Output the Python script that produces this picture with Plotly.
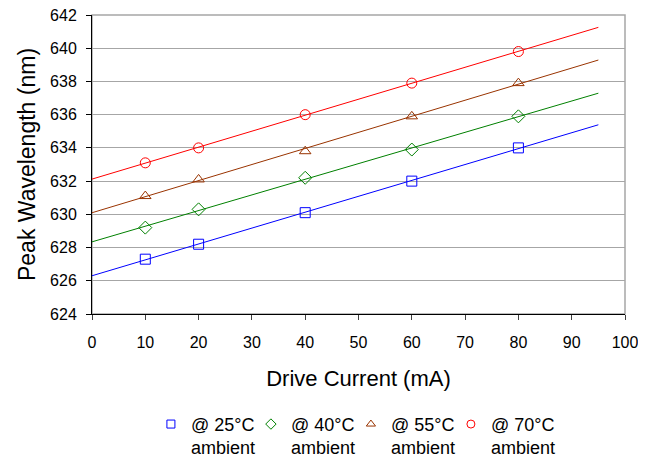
import numpy as np
import plotly.graph_objects as go

# ---- data ----
drive_current = [10, 20, 40, 60, 80]          # mA
wl_25 = [627.3, 628.2, 630.1, 632.0, 634.0]   # nm
wl_40 = [629.2, 630.3, 632.2, 633.9, 635.9]
wl_55 = [631.1, 632.1, 633.8, 635.9, 637.9]
wl_70 = [633.1, 634.0, 636.0, 637.9, 639.8]
series_names = ["@ 25°C<br>ambient", "@ 40°C<br>ambient",
                "@ 55°C<br>ambient", "@ 70°C<br>ambient"]
trend_range = [0, 95]                          # linear trendline extent (mA)
x_ticks = list(range(0, 101, 10))
y_ticks = list(range(624, 643, 2))

series = [wl_25, wl_40, wl_55, wl_70]
colors = ["#0000FF", "#008000", "#993300", "#FF0000"]
symbols = ["square-open", "diamond-open", "triangle-up-open", "circle-open"]

FONT = "Liberation Sans, Arial, sans-serif"
fig = go.Figure()

# linear trend lines (fit of the data, like the spreadsheet trendline)
for ys, c in zip(series, colors):
    slope, icpt = np.polyfit(drive_current, ys, 1)
    tx = np.array(trend_range, dtype=float)
    fig.add_trace(go.Scatter(x=tx, y=icpt + slope * tx, mode="lines",
                             line=dict(color=c, width=1), showlegend=False,
                             hoverinfo="skip"))

for ys, c, s, n in zip(series, colors, symbols, series_names):
    fig.add_trace(go.Scatter(x=drive_current, y=ys, mode="markers", name=n,
                             legendgroup=n, showlegend=False,
                             marker=dict(symbol=s, size=10, color=c,
                                         line=dict(color=c, width=1))))

# legend entries (smaller symbols, as in the reference legend)
for c, s, n in zip(colors, symbols, series_names):
    fig.add_trace(go.Scatter(x=[None], y=[None], mode="markers", name=n,
                             legendgroup=n,
                             marker=dict(symbol=s, size=8, color=c,
                                         line=dict(color=c, width=1))))

# empty, invisible legend spacer so the last legend text is not clipped
fig.add_trace(go.Scatter(x=[None], y=[None], mode="markers", name=" ",
                         marker=dict(color="rgba(0,0,0,0)", size=1),
                         hoverinfo="skip"))

# page body has an 8px margin, so the figure is 8px smaller than the window
fig.update_layout(
    width=638, height=455,
    margin=dict(l=84, r=21, t=7, b=149, autoexpand=False),
    paper_bgcolor="white", plot_bgcolor="white",
    font=dict(family=FONT, color="black"),
    showlegend=True,
    legend=dict(orientation="h", x=0.224, xref="container", xanchor="left",
                y=0.1256, yref="container", yanchor="top",
                font=dict(size=18, family=FONT), entrywidth=55,
                entrywidthmode="pixels", valign="top", itemwidth=30,
                tracegroupgap=0, bgcolor="rgba(0,0,0,0)"),
    xaxis=dict(range=[0, 100], tickvals=x_ticks, showgrid=False,
               showline=True, linecolor="black", linewidth=1,
               ticks="outside", ticklen=5, tickcolor="#404040",
               tickfont=dict(size=16), ticklabelstandoff=9,
               ticklabeloverflow="allow",
               title=dict(text="Drive Current (mA)", font=dict(size=22), standoff=20),
               zeroline=False, automargin=False),
    yaxis=dict(range=[624, 642], tickvals=y_ticks, showgrid=True,
               gridcolor="#A6A6A6", gridwidth=1,
               showline=True, linecolor="black", linewidth=1,
               ticks="outside", ticklen=5, tickcolor="black",
               tickfont=dict(size=16), ticklabelstandoff=6,
               ticklabeloverflow="allow",
               title=dict(text="Peak Wavelength (nm)", font=dict(size=23), standoff=8),
               zeroline=False, automargin=False),
    shapes=[dict(type="rect", xref="paper", yref="paper", x0=0, x1=1, y0=0, y1=1,
                 line=dict(color="#A6A6A6", width=1.5), layer="below")],
)

fig.write_html("out.html")
